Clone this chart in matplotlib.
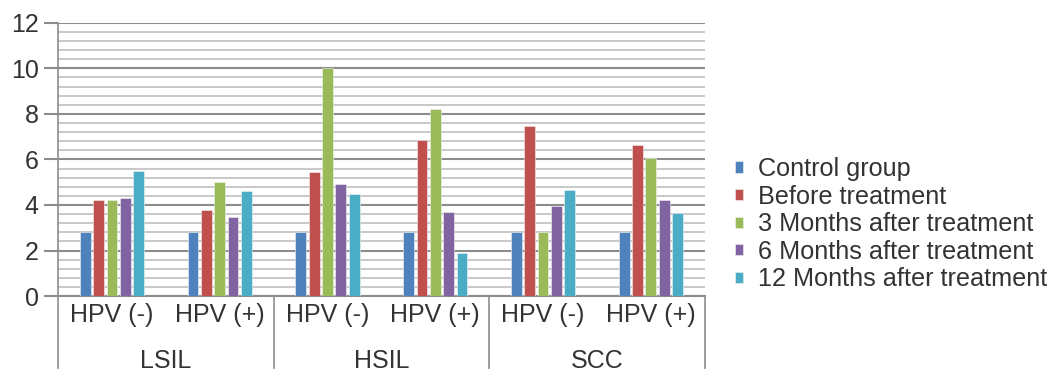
import matplotlib
matplotlib.use("Agg")
import matplotlib.pyplot as plt
import numpy as np
from matplotlib.ticker import MultipleLocator

plt.rcParams['font.family'] = ['Liberation Sans', 'DejaVu Sans']

groups = ["LSIL", "HSIL", "SCC"]
subgroups = ["HPV (-)", "HPV (+)"]
series = ["Control group", "Before treatment", "3 Months after treatment",
          "6 Months after treatment", "12 Months after treatment"]
colors = ["#4F81BD", "#C0504D", "#9BBB59", "#8064A2", "#4BACC6"]

control = [2.8, 2.8, 2.8, 2.8, 2.8, 2.8]
before = [4.2, 3.8, 5.45, 6.85, 7.45, 6.65]
m3 = [4.2, 5.0, 10.0, 8.2, 2.8, 6.05]
m6 = [4.3, 3.45, 4.9, 3.7, 3.95, 4.2]
m12 = [5.5, 4.6, 4.5, 1.9, 4.65, 3.65]
values = [control, before, m3, m6, m12]

TXT = "#333333"
fig = plt.figure(figsize=(10.63, 3.81), dpi=100)
ax = fig.add_axes([0.0546, 0.223, 0.6084, 0.717])

n = len(control)
x = np.arange(n)
step = 0.124
width = 0.10
for i, (vals, c, lab) in enumerate(zip(values, colors, series)):
    ax.bar(x + (i - 2) * step, vals, width=width, color=c, label=lab,
           edgecolor="#f2f2f2", linewidth=0.4, zorder=3)

ax.set_xlim(-0.5, n - 0.5)
ax.set_ylim(0, 12)
ax.yaxis.set_major_locator(MultipleLocator(2))
ax.yaxis.set_minor_locator(MultipleLocator(0.4))
ax.grid(which="major", axis="y", color="#8c8c8c", linewidth=1.5, zorder=1)
ax.grid(which="minor", axis="y", color="#c4c4c4", linewidth=1.3, zorder=1)
ax.set_axisbelow(True)

for s in ["top", "right"]:
    ax.spines[s].set_visible(False)
ax.spines["left"].set_color("#8c8c8c")
ax.spines["left"].set_linewidth(1.2)
ax.spines["bottom"].set_color("#8c8c8c")
ax.spines["bottom"].set_linewidth(1.5)

ax.tick_params(axis="y", which="major", length=10, color="#8c8c8c", width=1.5,
               labelsize=18, labelcolor=TXT, pad=4)
ax.tick_params(axis="y", which="minor", length=0)
ax.set_xticks([])

# category labels
trans = ax.get_xaxis_transform()
for i in range(n):
    ax.text(x[i], -0.068, subgroups[i % 2], transform=trans, ha="center",
            va="center", fontsize=18, color=TXT)
for g, name in enumerate(groups):
    ax.text(2 * g + 0.5, -0.236, name, transform=trans, ha="center",
            va="center", fontsize=18, color=TXT)
for b in [-0.5, 1.5, 3.5, 5.5]:
    ax.plot([b, b], [0, -0.265], transform=trans, color="#8c8c8c",
            linewidth=1.2, clip_on=False)

leg = ax.legend(loc="center left", bbox_to_anchor=(1.047, 0.263), frameon=False,
                fontsize=18.2, handlelength=0.3, handleheight=0.3,
                handletextpad=0.6, labelspacing=0.14, borderaxespad=0,
                borderpad=0)
for t in leg.get_texts():
    t.set_color(TXT)

fig.savefig("out.png", dpi=100)
